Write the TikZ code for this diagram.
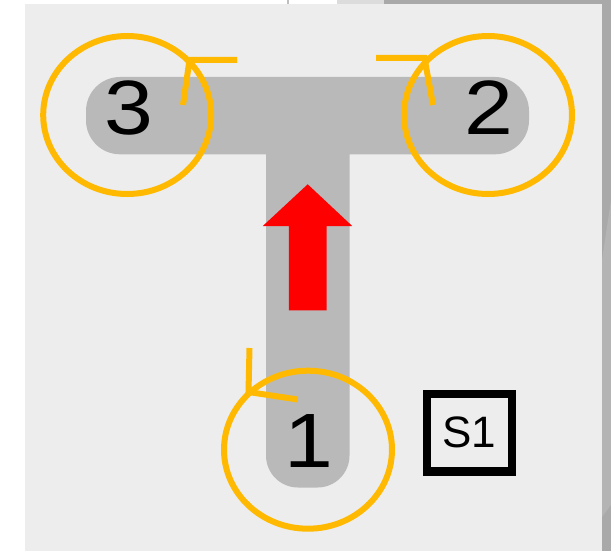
\documentclass[tikz,border=0pt]{standalone}
\usepackage{fontspec}
\setmainfont{Liberation Sans}
\newfontfamily\digitfont[FakeStretch=1.14]{Liberation Sans}
\usetikzlibrary{shapes.geometric}

\definecolor{panel}{HTML}{EDEDED}
\definecolor{track}{HTML}{B9B9B9}
\definecolor{ring}{RGB}{255,185,0}
\definecolor{edgedark}{HTML}{A9A9A9}
\definecolor{edgemid}{HTML}{B4B4B4}
\definecolor{edgelight}{HTML}{DCDCDC}

\tikzset{
  loop/.style={ellipse, draw=ring, line width=6pt, minimum width=168pt,
               minimum height=158pt, inner sep=0pt},
  barb/.style={draw=ring, line width=6pt, line join=miter, line cap=butt},
  stationnum/.style={inner sep=0pt, font=\digitfont\fontsize{77}{77}\selectfont},
  tag/.style={draw=black, line width=8.5pt, minimum width=84.7pt,
              minimum height=77.3pt, inner sep=0pt,
              font=\fontsize{44}{44}\selectfont},
}

\begin{document}
\begin{tikzpicture}[x=1pt,y=-1pt]
  \useasboundingbox (0,0) rectangle (611,551);

  % page surround
  \fill[white] (0,0) rectangle (611,551);
  \fill[edgelight] (337,0) rectangle (384,4);
  \fill[edgedark] (384,0) rectangle (611,4);
  \draw[color=gray!50, line width=1.5pt] (288,0) -- (288,4);
  \fill[edgedark] (602,0) rectangle (611,551);
  \fill[edgemid] (602,260) -- (611,200) -- (611,505) -- (602,517) -- cycle;

  % panel
  \fill[panel] (25,4) rectangle (602,551);

  % T-shaped track
  \fill[track, rounded corners=34pt] (86,77) rectangle (529,154.3);
  \fill[track, rounded corners=32pt] (266,120) rectangle (349.5,487.5);

  % direction of travel
  \fill[red] (307.7,184.3) -- (352.2,226) -- (326.7,226) -- (326.7,310.3)
             -- (288.8,310.3) -- (288.8,226) -- (262.8,226) -- cycle;

  % station numbers
  \node[stationnum] (n3) at (128.8,108.3) {3};
  \node[stationnum] (n2) at (489.2,108) {2};
  \node[stationnum] (n1) at (308.6,441) {1};

  % turning loops with their direction barbs
  \node[loop] (c3) at (127.2,115) {};
  \node[loop] (c2) at (488,115) {};
  \node[loop] (c1) at (308,449.7) {};

  \coordinate (t3) at (189.5,60);
  \coordinate (t2) at (424.5,58);
  \coordinate (t1) at (248.5,392);
  \draw[barb] (237,60) -- (t3) -- (183,105);
  \draw[barb] (376,58) -- (t2) -- (433,105);
  \draw[barb] (249.5,348) -- (t1) -- (297.7,399.5);

  % switch tag
  \node[tag] (s1) at (469.4,432.8) {S1};
\end{tikzpicture}
\end{document}
